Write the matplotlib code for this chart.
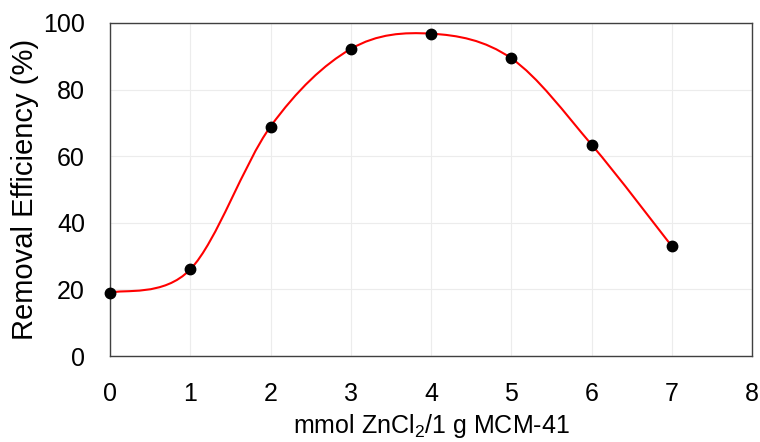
import numpy as np
import matplotlib.pyplot as plt
from matplotlib.path import Path
from matplotlib.patches import PathPatch

plt.rcParams['font.family'] = ['Liberation Sans', 'DejaVu Sans']

# ZnCl2 loading (mmol per 1 g MCM-41) and removal efficiency (%)
zncl2 = [0, 1, 2, 3, 4, 5, 6, 7]
efficiency = [19.0, 26.0, 68.9, 92.2, 96.8, 89.4, 63.5, 33.0]


def smooth_path(x, y):
    # Catmull-Rom style bezier segments through the points (spreadsheet "smoothed line")
    pts = np.column_stack([x, y]).astype(float)
    n = len(pts)
    verts = [pts[0]]
    codes = [Path.MOVETO]
    for i in range(n - 1):
        p0 = pts[i - 1] if i > 0 else pts[i]
        p1 = pts[i]
        p2 = pts[i + 1]
        p3 = pts[i + 2] if i + 2 < n else pts[i + 1]
        c1 = p1 + (p2 - p0) / 6.0
        c2 = p2 - (p3 - p1) / 6.0
        verts += [c1, c2, p2]
        codes += [Path.CURVE4] * 3
    return Path(verts, codes)


fig = plt.figure(figsize=(7.6, 4.42), dpi=100)
ax = fig.add_axes([110 / 760, 1 - 356 / 442, (752 - 110) / 760, (356 - 23) / 442])

ax.add_patch(PathPatch(smooth_path(zncl2, efficiency), facecolor='none',
                       edgecolor='#ff0000', lw=1.5, zorder=3))
ax.plot(zncl2, efficiency, 'o', color='black', ms=7.5, zorder=4, clip_on=False)

ax.set_xlim(0, 8)
ax.set_ylim(0, 100)
ax.set_xticks(range(0, 9))
ax.set_yticks(range(0, 101, 20))
ax.grid(True, color='#ececec', lw=0.8)
ax.set_axisbelow(True)
ax.tick_params(length=0, labelsize=18, colors='black')
ax.tick_params(axis='x', pad=19)
ax.tick_params(axis='y', pad=18)
for s in ax.spines.values():
    s.set_color('#404040')
    s.set_linewidth(1.0)

ax.set_xlabel('mmol ZnCl$_\\mathregular{2}$/1 g MCM-41', fontsize=18, labelpad=4)
ax.set_ylabel('Removal Efficiency (%)', fontsize=21, labelpad=3)

fig.savefig('out.png', dpi=100)
